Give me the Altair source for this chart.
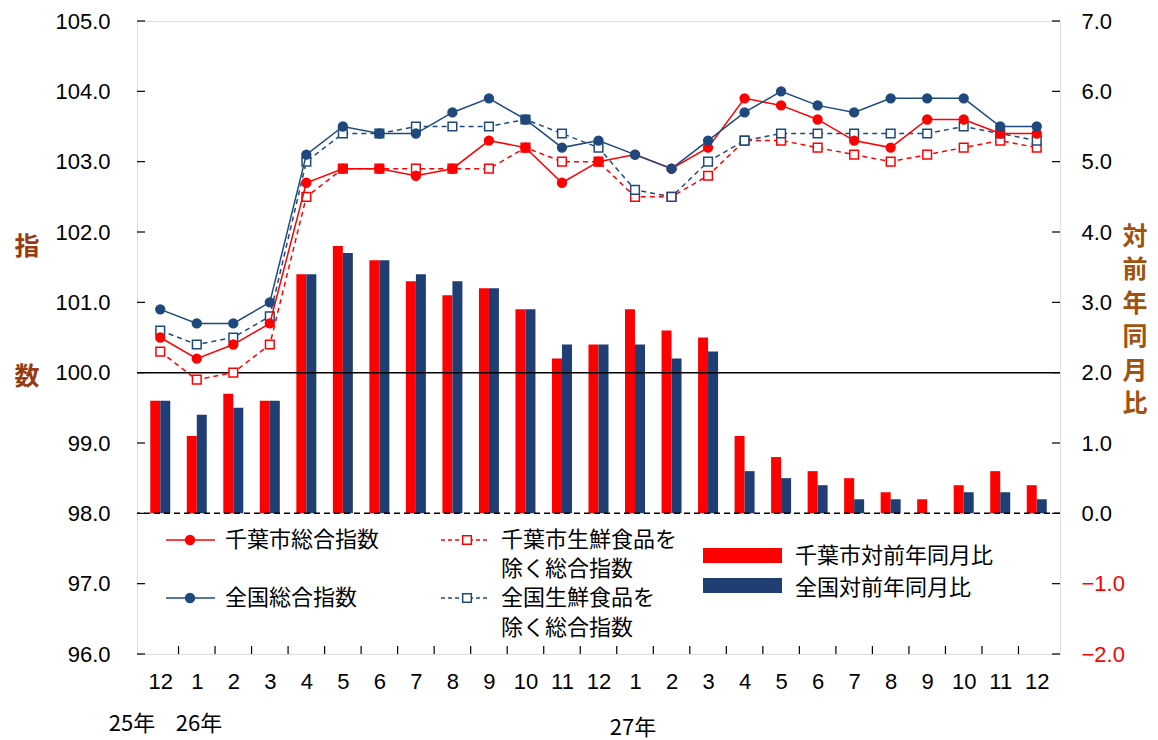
import json
import altair as alt
import pandas as pd

# ---------------- data ----------------
months = ["12", "1", "2", "3", "4", "5", "6", "7", "8", "9", "10", "11", "12",
          "1", "2", "3", "4", "5", "6", "7", "8", "9", "10", "11", "12"]
year_labels = ["25年", "26年", "27年"]

chiba_total = [100.5, 100.2, 100.4, 100.7, 102.7, 102.9, 102.9, 102.8, 102.9, 103.3, 103.2, 102.7, 103.0,
               103.1, 102.9, 103.2, 103.9, 103.8, 103.6, 103.3, 103.2, 103.6, 103.6, 103.4, 103.4]
national_total = [100.9, 100.7, 100.7, 101.0, 103.1, 103.5, 103.4, 103.4, 103.7, 103.9, 103.6, 103.2, 103.3,
                  103.1, 102.9, 103.3, 103.7, 104.0, 103.8, 103.7, 103.9, 103.9, 103.9, 103.5, 103.5]
chiba_core = [100.3, 99.9, 100.0, 100.4, 102.5, 102.9, 102.9, 102.9, 102.9, 102.9, 103.2, 103.0, 103.0,
              102.5, 102.5, 102.8, 103.3, 103.3, 103.2, 103.1, 103.0, 103.1, 103.2, 103.3, 103.2]
national_core = [100.6, 100.4, 100.5, 100.8, 103.0, 103.4, 103.4, 103.5, 103.5, 103.5, 103.6, 103.4, 103.2,
                 102.6, 102.5, 103.0, 103.3, 103.4, 103.4, 103.4, 103.4, 103.4, 103.5, 103.4, 103.3]
chiba_yoy = [1.6, 1.1, 1.7, 1.6, 3.4, 3.8, 3.6, 3.3, 3.1, 3.2, 2.9, 2.2, 2.4,
             2.9, 2.6, 2.5, 1.1, 0.8, 0.6, 0.5, 0.3, 0.2, 0.4, 0.6, 0.4]
national_yoy = [1.6, 1.4, 1.5, 1.6, 3.4, 3.7, 3.6, 3.4, 3.3, 3.2, 2.9, 2.4, 2.4,
                2.4, 2.2, 2.3, 0.6, 0.5, 0.4, 0.2, 0.2, 0.0, 0.3, 0.3, 0.2]

left_ticks = [96, 97, 98, 99, 100, 101, 102, 103, 104, 105]
right_ticks = [-2, -1, 0, 1, 2, 3, 4, 5, 6, 7]

# ---------------- style ----------------
FONT = "Noto Sans CJK JP"
RED = "#FF0000"
NAVY = "#1F497D"
NAVY_BAR = "#1F3F74"
BROWN_L = "#9A3A10"
BROWN_R = "#A0520F"
W, H = 923, 633
N = len(months)

x_scale = alt.Scale(domain=[-0.5, N - 0.5], nice=False, zero=False)
x_axis = alt.Axis(values=list(range(N)),
                  labelExpr=json.dumps(months) + "[datum.value]",
                  tickSize=0, domain=False, grid=False, title=None,
                  labelPadding=17, labelFlush=False, labelOverlap=False,
                  labelFontSize=22, labelColor="black")


def XQ(field="i"):
    return alt.X(f"{field}:Q", scale=x_scale, axis=x_axis)


left_axis = alt.Axis(orient="left", values=left_ticks, format=".1f", tickSize=0,
                     domain=False, grid=False, title=None, labelPadding=27,
                     labelFontSize=22, labelColor="black")
right_axis = alt.Axis(orient="right", values=right_ticks, format=".1f", tickSize=0,
                      domain=False, grid=False, title=None, labelPadding=21,
                      labelFontSize=22,
                      labelColor=alt.condition("datum.value < 0", alt.value("red"), alt.value("black")))
yl_scale = alt.Scale(domain=[96, 105], nice=False, zero=False)
yr_scale = alt.Scale(domain=[-2, 7], nice=False, zero=False)


def YL(field="v"):
    return alt.Y(f"{field}:Q", scale=yl_scale, axis=left_axis)


def YR(field="v"):
    return alt.Y(f"{field}:Q", scale=yr_scale, axis=right_axis)


one = alt.Data(values=[{"a": 1}])


def series(vals):
    return pd.DataFrame({"i": list(range(N)), "v": vals})


def line_layers(vals, color, dashed):
    base = alt.Chart(series(vals))
    if dashed:
        ln = base.mark_line(color=color, strokeWidth=1.5, strokeDash=[5, 4])
        pt = base.mark_point(shape="square", filled=True, fill="white", stroke=color,
                             strokeWidth=1.5, size=75, opacity=1)
    else:
        ln = base.mark_line(color=color, strokeWidth=1.5)
        pt = base.mark_point(shape="circle", filled=True, fill=color, stroke=color,
                             size=70, opacity=1)
    return [ln.encode(x=XQ(), y=YL()), pt.encode(x=XQ(), y=YL())]


def txt(s, x, y, size=22, color="black", align="left", weight="normal", **kw):
    return alt.Chart(one).mark_text(text=s, align=align, baseline="middle", font=FONT,
                                    fontSize=size, color=color, fontWeight=weight, **kw
                                    ).encode(x=alt.value(x), y=alt.value(y))


def seg(x1, x2, y, color, dash=None):
    kw = {"strokeDash": dash} if dash else {}
    return alt.Chart(one).mark_rule(color=color, strokeWidth=1.5, **kw).encode(
        x=alt.value(x1), x2=alt.value(x2), y=alt.value(y))


def mk(x, y, color, square):
    if square:
        m = alt.Chart(one).mark_point(shape="square", filled=True, fill="white", stroke=color,
                                      strokeWidth=1.5, size=75, opacity=1)
    else:
        m = alt.Chart(one).mark_point(shape="circle", filled=True, fill=color, stroke=color,
                                      size=70, opacity=1)
    return m.encode(x=alt.value(x), y=alt.value(y))


def box(x1, x2, y1, y2, color):
    return alt.Chart(one).mark_rect(color=color).encode(
        x=alt.value(x1), x2=alt.value(x2), y=alt.value(y1), y2=alt.value(y2))


# ---------------- right (bars) ----------------
bars_red = alt.Chart(series(chiba_yoy)).mark_bar(width=10, xOffset=-5, color=RED).encode(
    x=XQ(), y=YR(), y2=alt.datum(0))
bars_navy = alt.Chart(series(national_yoy)).mark_bar(width=10, xOffset=5, color=NAVY_BAR).encode(
    x=XQ(), y=YR(), y2=alt.datum(0))
rticks = alt.Chart(pd.DataFrame({"v": right_ticks})).mark_rule(color="black", strokeWidth=1.2).encode(
    y=YR(), x=alt.value(W - 8), x2=alt.value(W))
right_group = alt.layer(bars_red, bars_navy, rticks)

# ---------------- left (lines etc.) ----------------
ref_solid = alt.Chart(one).mark_rule(color="black", strokeWidth=1.5).encode(
    y=alt.datum(100, scale=yl_scale, axis=left_axis))
ref_dash = alt.Chart(one).mark_rule(color="black", strokeWidth=1.5, strokeDash=[6, 4]).encode(
    y=alt.datum(98, scale=yl_scale, axis=left_axis))
lticks = alt.Chart(pd.DataFrame({"v": left_ticks})).mark_rule(color="black", strokeWidth=1.2).encode(
    y=YL(), x=alt.value(0), x2=alt.value(8))
xticks = alt.Chart(pd.DataFrame({"i": [k + 0.5 for k in range(N - 1)]})).mark_rule(
    color="black", strokeWidth=1.2).encode(
    x=XQ(), y=alt.value(H - 8), y2=alt.value(H))

lines = (line_layers(chiba_core, RED, True) + line_layers(national_core, NAVY, True)
         + line_layers(chiba_total, RED, False) + line_layers(national_total, NAVY, False))

legend = [
    seg(29, 78, 519, RED), mk(53, 519, RED, False), txt("千葉市総合指数", 88, 519),
    seg(304, 353, 519, RED, [4, 3]), mk(330, 519, RED, True),
    txt("千葉市生鮮食品を", 364, 519), txt("除く総合指数", 364, 548),
    seg(29, 78, 577, NAVY), mk(53, 577, NAVY, False), txt("全国総合指数", 88, 577),
    seg(304, 353, 577, NAVY, [4, 3]), mk(330, 577, NAVY, True),
    txt("全国生鮮食品を", 364, 577), txt("除く総合指数", 364, 607),
    box(566, 645, 527, 542, RED), txt("千葉市対前年同月比", 658, 535),
    box(566, 645, 557, 572, NAVY_BAR), txt("全国対前年同月比", 658, 567),
]

annotations = [
    txt("指", -110, 226, size=25, color=BROWN_L, align="center", weight="bold"),
    txt("数", -110, 356, size=25, color=BROWN_L, align="center", weight="bold"),
    txt("対\n前\n年\n同\n月\n比", 998, 216, size=25, color=BROWN_R, align="center",
        weight="bold", lineBreak="\n", lineHeight=33.4),
    txt(year_labels[0], -5, 703, align="center"),
    txt(year_labels[1], 62, 703, align="center"),
    txt(year_labels[2], 496, 707, align="center"),
]

left_group = alt.layer(ref_solid, ref_dash, lticks, xticks, *lines, *legend, *annotations)

chart = alt.layer(right_group, left_group).resolve_scale(y="independent").properties(
    width=W, height=H,
    padding={"left": 129, "top": 13, "right": 90, "bottom": 96},
    autosize=alt.AutoSizeParams(type="none"),
).configure_view(stroke="black", strokeWidth=1.5).configure_axis(
    labelFont=FONT
).configure(background="white")

chart.save("out.html", embed_options={"renderer": "svg", "actions": False})
